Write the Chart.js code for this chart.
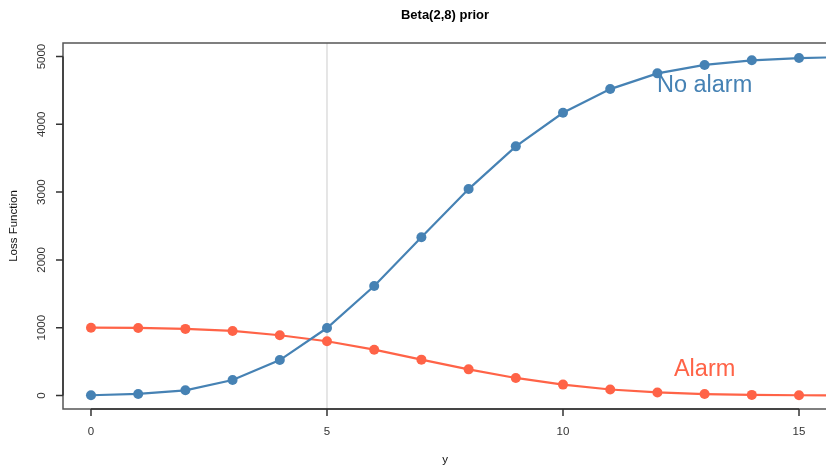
<!DOCTYPE html>
<html>
<head>
<meta charset="utf-8">
<script src="https://cdn.jsdelivr.net/npm/chart.js@4/dist/chart.umd.min.js"></script>
<style>
  html, body { margin: 0; padding: 0; background: #fff; }
  canvas { display: block; }
</style>
</head>
<body>
<canvas id="lossChart" width="826" height="467"></canvas>
<script>
const yValues = [0, 1, 2, 3, 4, 5, 6, 7, 8, 9, 10, 11, 12, 13, 14, 15, 16];
const noAlarmLoss = [3, 22, 76, 228, 522, 995, 1615, 2335, 3045, 3675, 4170, 4520, 4752, 4876, 4945, 4978, 4992];
const alarmLoss = [1000, 996, 982, 952, 888, 800, 675, 528, 385, 258, 160, 88, 44, 20, 8, 3, 1];
const xTicks = [0, 5, 10, 15];
const yTicks = [0, 1000, 2000, 3000, 4000, 5000];
const cutoff = 5;

const BLUE = "#4682B4";
const RED = "#FF6347";
const FONT = "'Liberation Sans', Arial, sans-serif";

const rStyle = {
  id: "rStyle",
  beforeDatasetsDraw(chart) {
    const { ctx, chartArea: a, scales: { x } } = chart;
    const px = x.getPixelForValue(cutoff);
    ctx.save();
    ctx.strokeStyle = "#cccccc";
    ctx.lineWidth = 1;
    ctx.beginPath();
    ctx.moveTo(px, a.top);
    ctx.lineTo(px, a.bottom);
    ctx.stroke();
    ctx.restore();
  },
  afterDatasetsDraw(chart) {
    const { ctx, scales: { x, y } } = chart;
    ctx.save();
    ctx.font = "23.5px " + FONT;
    ctx.textAlign = "center";
    ctx.textBaseline = "alphabetic";
    ctx.fillStyle = BLUE;
    ctx.fillText("No alarm", x.getPixelForValue(13), y.getPixelForValue(4600) + 8);
    ctx.fillStyle = RED;
    ctx.fillText("Alarm", x.getPixelForValue(13), y.getPixelForValue(400) + 8);
    ctx.restore();
  },
  afterDraw(chart) {
    const { ctx, chartArea: a, scales: { x, y } } = chart;
    ctx.save();
    // box
    ctx.strokeStyle = "#555";
    ctx.lineWidth = 1.5;
    ctx.beginPath();
    ctx.moveTo(chart.width + 2, a.top);
    ctx.lineTo(a.left, a.top);
    ctx.lineTo(a.left, a.bottom);
    ctx.lineTo(chart.width + 2, a.bottom);
    ctx.stroke();

    // axes
    ctx.strokeStyle = "#333";
    ctx.fillStyle = "#333";
    ctx.font = "11.5px " + FONT;
    ctx.beginPath();
    ctx.moveTo(x.getPixelForValue(xTicks[0]), a.bottom);
    ctx.lineTo(x.getPixelForValue(xTicks[xTicks.length - 1]), a.bottom);
    ctx.moveTo(a.left, y.getPixelForValue(yTicks[0]));
    ctx.lineTo(a.left, y.getPixelForValue(yTicks[yTicks.length - 1]));
    xTicks.forEach(v => {
      const px = x.getPixelForValue(v);
      ctx.moveTo(px, a.bottom);
      ctx.lineTo(px, a.bottom + 7);
    });
    yTicks.forEach(v => {
      const py = y.getPixelForValue(v);
      ctx.moveTo(a.left, py);
      ctx.lineTo(a.left - 7, py);
    });
    ctx.stroke();

    ctx.textAlign = "center";
    ctx.textBaseline = "middle";
    xTicks.forEach(v => ctx.fillText(String(v), x.getPixelForValue(v), a.bottom + 23));
    yTicks.forEach(v => {
      ctx.save();
      ctx.translate(a.left - 21, y.getPixelForValue(v));
      ctx.rotate(-Math.PI / 2);
      ctx.fillText(String(v), 0, 0);
      ctx.restore();
    });

    // axis titles
    ctx.fillStyle = "#111";
    ctx.fillText("y", 445, 460);
    ctx.save();
    ctx.translate(14, (a.top + a.bottom) / 2);
    ctx.rotate(-Math.PI / 2);
    ctx.fillText("Loss Function", 0, 0);
    ctx.restore();

    // main title
    ctx.font = "bold 13px " + FONT;
    ctx.fillStyle = "#000";
    ctx.fillText("Beta(2,8) prior", 445, 15);
    ctx.restore();
  }
};

const lineClip = { left: 5, top: 5, right: 20, bottom: 5 };

new Chart(document.getElementById("lossChart"), {
  type: "scatter",
  data: {
    datasets: [
      {
        label: "No alarm",
        data: yValues.map((v, i) => ({ x: v, y: noAlarmLoss[i] })),
        showLine: true,
        clip: lineClip,
        borderColor: BLUE,
        backgroundColor: BLUE,
        borderWidth: 2.2,
        pointRadius: 5,
        pointBorderWidth: 0,
        pointHoverRadius: 5
      },
      {
        label: "Alarm",
        data: yValues.map((v, i) => ({ x: v, y: alarmLoss[i] })),
        showLine: true,
        clip: lineClip,
        borderColor: RED,
        backgroundColor: RED,
        borderWidth: 2.2,
        pointRadius: 5,
        pointBorderWidth: 0,
        pointHoverRadius: 5
      }
    ]
  },
  options: {
    responsive: false,
    animation: false,
    layout: { padding: { top: 43, right: 0, bottom: 0, left: 0 } },
    plugins: {
      legend: { display: false },
      tooltip: { enabled: false },
      title: { display: false }
    },
    scales: {
      x: {
        type: "linear",
        min: -0.593,
        max: 15.466,
        grid: { display: false },
        border: { display: false },
        ticks: { display: false },
        afterBuildTicks: axis => { axis.ticks = xTicks.map(v => ({ value: v })); },
        afterFit: axis => { axis.height = 58; }
      },
      y: {
        type: "linear",
        min: -200,
        max: 5200,
        grid: { display: false },
        border: { display: false },
        ticks: { display: false },
        afterBuildTicks: axis => { axis.ticks = yTicks.map(v => ({ value: v })); },
        afterFit: axis => { axis.width = 63; }
      }
    }
  },
  plugins: [rStyle]
});
</script>
</body>
</html>
